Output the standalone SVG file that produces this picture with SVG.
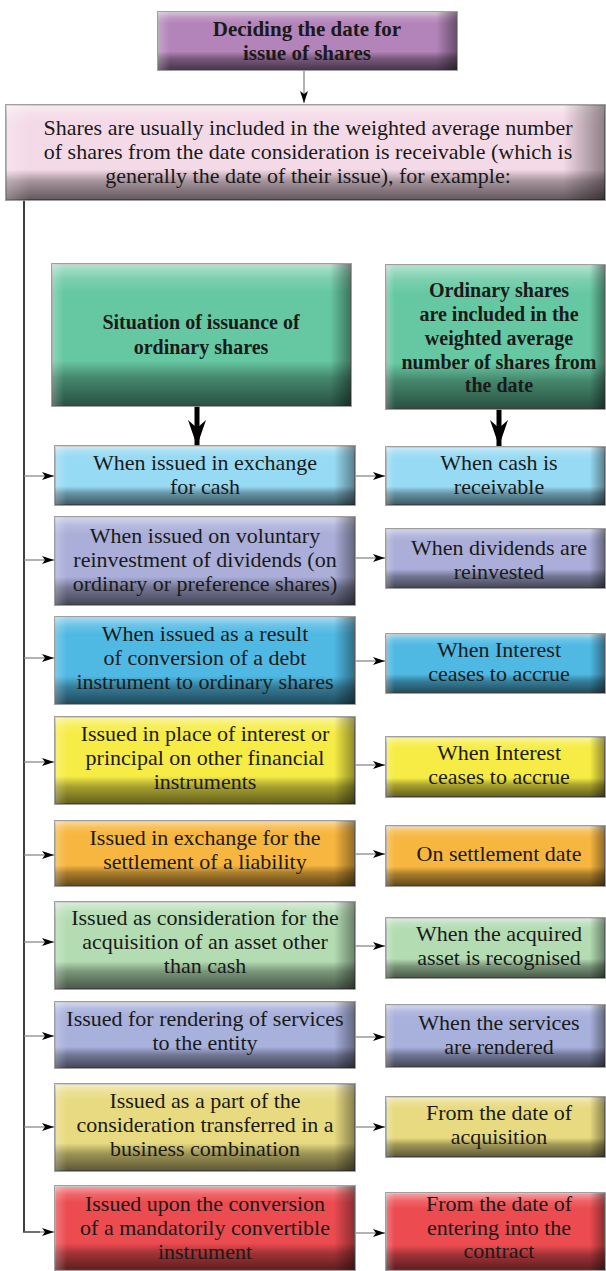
<svg xmlns="http://www.w3.org/2000/svg" width="606" height="1271" viewBox="0 0 606 1271">
<defs>
<linearGradient id="vshade" x1="0" y1="0" x2="0" y2="1">
<stop offset="0" stop-color="#fff" stop-opacity="0.5"/>
<stop offset="0.1" stop-color="#fff" stop-opacity="0.15"/>
<stop offset="0.2" stop-color="#fff" stop-opacity="0"/>
<stop offset="0.68" stop-color="#000" stop-opacity="0"/>
<stop offset="0.8" stop-color="#000" stop-opacity="0.32"/>
<stop offset="1" stop-color="#000" stop-opacity="0.6"/>
</linearGradient>
<linearGradient id="hshade" x1="0" y1="0" x2="1" y2="0">
<stop offset="0" stop-color="#fff" stop-opacity="0.25"/>
<stop offset="0.04" stop-color="#fff" stop-opacity="0"/>
<stop offset="0.93" stop-color="#000" stop-opacity="0"/>
<stop offset="1" stop-color="#000" stop-opacity="0.42"/>
</linearGradient>
<marker id="ah" markerUnits="userSpaceOnUse" viewBox="0 0 12 8" refX="12" refY="4" markerWidth="12" markerHeight="8" orient="auto">
<path d="M0,0 L12,4 L0,8 L3,4 Z" fill="#000"/>
</marker>
<marker id="big" markerUnits="userSpaceOnUse" viewBox="0 0 26 18" refX="26" refY="9" markerWidth="26" markerHeight="18" orient="auto">
<path d="M0,0 L26,9 L0,18 L8,9 Z" fill="#000"/>
</marker>
<style>
.bx{stroke:#969696;stroke-width:1.8}
.ov{stroke:none}
.t{font-family:"Liberation Serif","Times New Roman",serif;font-size:22px;fill:#1a1a1a;text-anchor:middle}
.b{font-family:"Liberation Serif","Times New Roman",serif;font-size:20px;font-weight:bold;fill:#1a1a1a;text-anchor:middle}
.thin{stroke:#8a8a8a;stroke-width:1.3;fill:none}
.vl{stroke:#000;stroke-width:1.5;fill:none}
.thick{stroke:#000;stroke-width:5;fill:none}
</style>
</defs>

<g id="connectors">
<line class="thin" x1="304" y1="70" x2="304" y2="103" marker-end="url(#ah)"/>
<polyline class="vl" points="24,200 24,1232 40,1232"/>
<line class="thick" x1="197" y1="406" x2="197" y2="446" marker-end="url(#big)"/>
<line class="thick" x1="499" y1="409" x2="499" y2="446" marker-end="url(#big)"/>
<line class="thin" x1="24" y1="476" x2="54" y2="476" marker-end="url(#ah)"/>
<line class="thin" x1="24" y1="560" x2="54" y2="560" marker-end="url(#ah)"/>
<line class="thin" x1="24" y1="658" x2="54" y2="658" marker-end="url(#ah)"/>
<line class="thin" x1="24" y1="762" x2="54" y2="762" marker-end="url(#ah)"/>
<line class="thin" x1="24" y1="855" x2="54" y2="855" marker-end="url(#ah)"/>
<line class="thin" x1="24" y1="942" x2="54" y2="942" marker-end="url(#ah)"/>
<line class="thin" x1="24" y1="1036" x2="54" y2="1036" marker-end="url(#ah)"/>
<line class="thin" x1="24" y1="1127" x2="54" y2="1127" marker-end="url(#ah)"/>
<line class="thin" x1="24" y1="1232" x2="54" y2="1232" marker-end="url(#ah)"/>
<line class="thin" x1="355" y1="476" x2="385" y2="476" marker-end="url(#ah)"/>
<line class="thin" x1="355" y1="558" x2="385" y2="558" marker-end="url(#ah)"/>
<line class="thin" x1="355" y1="661" x2="385" y2="661" marker-end="url(#ah)"/>
<line class="thin" x1="355" y1="765" x2="385" y2="765" marker-end="url(#ah)"/>
<line class="thin" x1="355" y1="854" x2="385" y2="854" marker-end="url(#ah)"/>
<line class="thin" x1="355" y1="946" x2="385" y2="946" marker-end="url(#ah)"/>
<line class="thin" x1="355" y1="1037" x2="385" y2="1037" marker-end="url(#ah)"/>
<line class="thin" x1="355" y1="1127" x2="385" y2="1127" marker-end="url(#ah)"/>
<line class="thin" x1="355" y1="1233" x2="385" y2="1233" marker-end="url(#ah)"/>
</g>

<g id="n-top">
<rect class="bx" x="158" y="12" width="299" height="58" fill="#b384b9"/>
<rect class="ov" x="158" y="12" width="299" height="58" fill="url(#vshade)"/>
<rect class="ov" x="158" y="12" width="299" height="58" fill="url(#hshade)"/>
<text class="b" x="307" y="36" style="font-size:21px">Deciding the date for</text>
<text class="b" x="307" y="60" style="font-size:21px">issue of shares</text>
</g>

<g id="n-intro">
<rect class="bx" x="6" y="105" width="599" height="95" fill="#f4d9e6"/>
<rect class="ov" x="6" y="105" width="599" height="95" fill="url(#vshade)"/>
<rect class="ov" x="6" y="105" width="599" height="95" fill="url(#hshade)"/>
<text class="t" x="308" y="135">Shares are usually included in the weighted average number</text>
<text class="t" x="308" y="159">of shares from the date consideration is receivable (which is</text>
<text class="t" x="308" y="183">generally the date of their issue), for example:</text>
</g>

<g id="n-head-left">
<rect class="bx" x="52" y="264" width="299" height="142" fill="#66c8a2"/>
<rect class="ov" x="52" y="264" width="299" height="142" fill="url(#vshade)"/>
<rect class="ov" x="52" y="264" width="299" height="142" fill="url(#hshade)"/>
<text class="b" x="201" y="329">Situation of issuance of</text>
<text class="b" x="201" y="354">ordinary shares</text>
</g>

<g id="n-head-right">
<rect class="bx" x="386" y="265" width="219" height="144" fill="#66c8a2"/>
<rect class="ov" x="386" y="265" width="219" height="144" fill="url(#vshade)"/>
<rect class="ov" x="386" y="265" width="219" height="144" fill="url(#hshade)"/>
<text class="b" x="499" y="297">Ordinary shares</text>
<text class="b" x="499" y="321">are included in the</text>
<text class="b" x="499" y="345">weighted average</text>
<text class="b" x="499" y="369">number of shares from</text>
<text class="b" x="499" y="392">the date</text>
</g>

<g id="n-l1">
<rect class="bx" x="55" y="446" width="300" height="59" fill="#97daf3"/>
<rect class="ov" x="55" y="446" width="300" height="59" fill="url(#vshade)"/>
<rect class="ov" x="55" y="446" width="300" height="59" fill="url(#hshade)"/>
<text class="t" x="205" y="470">When issued in exchange</text>
<text class="t" x="205" y="494">for cash</text>
</g>
<g id="n-r1">
<rect class="bx" x="386" y="447" width="219" height="58" fill="#97daf3"/>
<rect class="ov" x="386" y="447" width="219" height="58" fill="url(#vshade)"/>
<rect class="ov" x="386" y="447" width="219" height="58" fill="url(#hshade)"/>
<text class="t" x="499" y="470">When cash is</text>
<text class="t" x="499" y="494">receivable</text>
</g>

<g id="n-l2">
<rect class="bx" x="55" y="517" width="300" height="88" fill="#aaaed8"/>
<rect class="ov" x="55" y="517" width="300" height="88" fill="url(#vshade)"/>
<rect class="ov" x="55" y="517" width="300" height="88" fill="url(#hshade)"/>
<text class="t" x="205" y="543">When issued on voluntary</text>
<text class="t" x="205" y="567">reinvestment of dividends (on</text>
<text class="t" x="205" y="591">ordinary or preference shares)</text>
</g>
<g id="n-r2">
<rect class="bx" x="386" y="529" width="219" height="59" fill="#aaaed8"/>
<rect class="ov" x="386" y="529" width="219" height="59" fill="url(#vshade)"/>
<rect class="ov" x="386" y="529" width="219" height="59" fill="url(#hshade)"/>
<text class="t" x="499" y="555">When dividends are</text>
<text class="t" x="499" y="579">reinvested</text>
</g>

<g id="n-l3">
<rect class="bx" x="55" y="617" width="300" height="87" fill="#4fb9e3"/>
<rect class="ov" x="55" y="617" width="300" height="87" fill="url(#vshade)"/>
<rect class="ov" x="55" y="617" width="300" height="87" fill="url(#hshade)"/>
<text class="t" x="205" y="641">When issued as a result</text>
<text class="t" x="205" y="665">of conversion of a debt</text>
<text class="t" x="205" y="689">instrument to ordinary shares</text>
</g>
<g id="n-r3">
<rect class="bx" x="386" y="634" width="219" height="59" fill="#4fb9e3"/>
<rect class="ov" x="386" y="634" width="219" height="59" fill="url(#vshade)"/>
<rect class="ov" x="386" y="634" width="219" height="59" fill="url(#hshade)"/>
<text class="t" x="499" y="657">When Interest</text>
<text class="t" x="499" y="681">ceases to accrue</text>
</g>

<g id="n-l4">
<rect class="bx" x="55" y="717" width="300" height="87" fill="#f6ec45"/>
<rect class="ov" x="55" y="717" width="300" height="87" fill="url(#vshade)"/>
<rect class="ov" x="55" y="717" width="300" height="87" fill="url(#hshade)"/>
<text class="t" x="205" y="741">Issued in place of interest or</text>
<text class="t" x="205" y="765">principal on other financial</text>
<text class="t" x="205" y="789">instruments</text>
</g>
<g id="n-r4">
<rect class="bx" x="386" y="737" width="219" height="60" fill="#f6ec45"/>
<rect class="ov" x="386" y="737" width="219" height="60" fill="url(#vshade)"/>
<rect class="ov" x="386" y="737" width="219" height="60" fill="url(#hshade)"/>
<text class="t" x="499" y="760">When Interest</text>
<text class="t" x="499" y="784">ceases to accrue</text>
</g>

<g id="n-l5">
<rect class="bx" x="55" y="821" width="300" height="65" fill="#f7b63f"/>
<rect class="ov" x="55" y="821" width="300" height="65" fill="url(#vshade)"/>
<rect class="ov" x="55" y="821" width="300" height="65" fill="url(#hshade)"/>
<text class="t" x="205" y="845">Issued in exchange for the</text>
<text class="t" x="205" y="869">settlement of a liability</text>
</g>
<g id="n-r5">
<rect class="bx" x="386" y="826" width="219" height="60" fill="#f7b63f"/>
<rect class="ov" x="386" y="826" width="219" height="60" fill="url(#vshade)"/>
<rect class="ov" x="386" y="826" width="219" height="60" fill="url(#hshade)"/>
<text class="t" x="499" y="861">On settlement date</text>
</g>

<g id="n-l6">
<rect class="bx" x="55" y="902" width="300" height="87" fill="#b3dcb3"/>
<rect class="ov" x="55" y="902" width="300" height="87" fill="url(#vshade)"/>
<rect class="ov" x="55" y="902" width="300" height="87" fill="url(#hshade)"/>
<text class="t" x="205" y="925">Issued as consideration for the</text>
<text class="t" x="205" y="949">acquisition of an asset other</text>
<text class="t" x="205" y="973">than cash</text>
</g>
<g id="n-r6">
<rect class="bx" x="386" y="918" width="219" height="60" fill="#b3dcb3"/>
<rect class="ov" x="386" y="918" width="219" height="60" fill="url(#vshade)"/>
<rect class="ov" x="386" y="918" width="219" height="60" fill="url(#hshade)"/>
<text class="t" x="499" y="941">When the acquired</text>
<text class="t" x="499" y="965">asset is recognised</text>
</g>

<g id="n-l7">
<rect class="bx" x="55" y="1002" width="300" height="66" fill="#a8b0dc"/>
<rect class="ov" x="55" y="1002" width="300" height="66" fill="url(#vshade)"/>
<rect class="ov" x="55" y="1002" width="300" height="66" fill="url(#hshade)"/>
<text class="t" x="205" y="1026">Issued for rendering of services</text>
<text class="t" x="205" y="1050">to the entity</text>
</g>
<g id="n-r7">
<rect class="bx" x="386" y="1005" width="219" height="62" fill="#a8b0dc"/>
<rect class="ov" x="386" y="1005" width="219" height="62" fill="url(#vshade)"/>
<rect class="ov" x="386" y="1005" width="219" height="62" fill="url(#hshade)"/>
<text class="t" x="499" y="1030">When the services</text>
<text class="t" x="499" y="1054">are rendered</text>
</g>

<g id="n-l8">
<rect class="bx" x="55" y="1084" width="300" height="87" fill="#e8da80"/>
<rect class="ov" x="55" y="1084" width="300" height="87" fill="url(#vshade)"/>
<rect class="ov" x="55" y="1084" width="300" height="87" fill="url(#hshade)"/>
<text class="t" x="205" y="1108">Issued as a part of the</text>
<text class="t" x="205" y="1132">consideration transferred in a</text>
<text class="t" x="205" y="1156">business combination</text>
</g>
<g id="n-r8">
<rect class="bx" x="386" y="1097" width="219" height="60" fill="#e8da80"/>
<rect class="ov" x="386" y="1097" width="219" height="60" fill="url(#vshade)"/>
<rect class="ov" x="386" y="1097" width="219" height="60" fill="url(#hshade)"/>
<text class="t" x="499" y="1120">From the date of</text>
<text class="t" x="499" y="1144">acquisition</text>
</g>

<g id="n-l9">
<rect class="bx" x="55" y="1186" width="300" height="84" fill="#ec4b50"/>
<rect class="ov" x="55" y="1186" width="300" height="84" fill="url(#vshade)"/>
<rect class="ov" x="55" y="1186" width="300" height="84" fill="url(#hshade)"/>
<text class="t" x="205" y="1211">Issued upon the conversion</text>
<text class="t" x="205" y="1235">of a mandatorily convertible</text>
<text class="t" x="205" y="1259">instrument</text>
</g>
<g id="n-r9">
<rect class="bx" x="386" y="1193" width="219" height="77" fill="#ec4b50"/>
<rect class="ov" x="386" y="1193" width="219" height="77" fill="url(#vshade)"/>
<rect class="ov" x="386" y="1193" width="219" height="77" fill="url(#hshade)"/>
<text class="t" x="499" y="1211">From the date of</text>
<text class="t" x="499" y="1235">entering into the</text>
<text class="t" x="499" y="1258">contract</text>
</g>
</svg>
